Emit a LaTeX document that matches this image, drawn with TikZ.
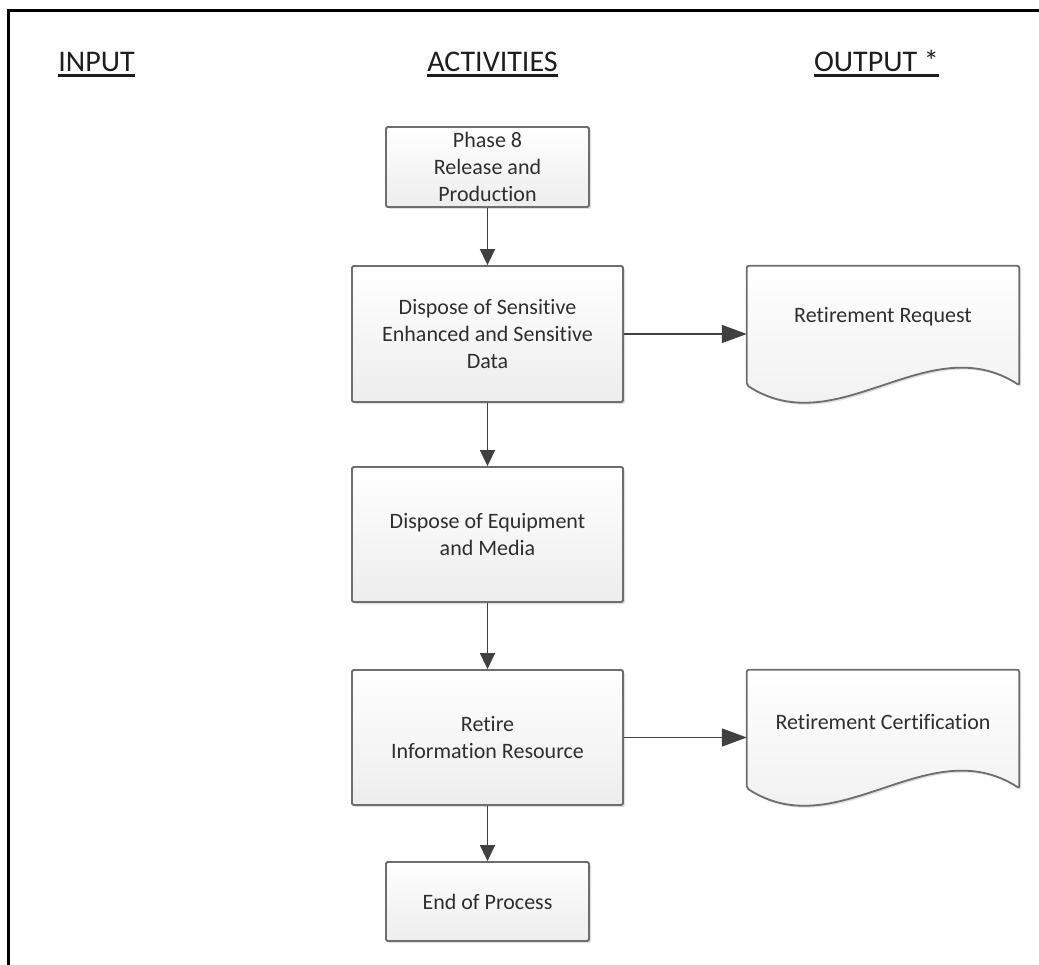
\documentclass[tikz,border=0pt]{standalone}
\usepackage{fontspec}
\setmainfont{Carlito}[Ligatures=NoCommon]
\usetikzlibrary{arrows.meta,shadows,calc}
\definecolor{linec}{HTML}{404040}
\definecolor{boxline}{HTML}{6E6E6E}
\definecolor{txt}{HTML}{2E2E2E}
\definecolor{headc}{HTML}{1E1E1E}
\begin{document}
\begin{tikzpicture}[x=1pt,y=-1pt,
  procbox/.style={draw=boxline, line width=1.8pt, rounded corners=1.5pt,
    top color=white, bottom color=black!7,
    drop shadow={shadow xshift=2pt,shadow yshift=-2pt,fill=black!40,opacity=0.3},
    align=center, font=\fontsize{22}{27}\selectfont, text=txt, inner sep=0pt},
  docframe/.style={draw=none, inner sep=0pt, minimum width=272pt},
  docline/.style={draw=boxline, line width=1.8pt, rounded corners=2pt,
    top color=white, bottom color=black!7,
    drop shadow={shadow xshift=2pt,shadow yshift=-2pt,fill=black!40,opacity=0.3}},
  doctext/.style={font=\fontsize{22}{27}\selectfont, text=txt, inner sep=0pt},
  heading/.style={font=\fontsize{30}{36}\selectfont, text=headc, anchor=base, inner sep=0pt},
  uline/.style={draw=headc, line width=2.4pt},
  varrow/.style={draw=linec, line width=1.6pt, -{Triangle[length=16pt,width=15pt]}},
  harrow/.style={draw=linec, line width=1.6pt, -{Triangle[length=25pt,width=18pt]}}
]
\useasboundingbox (0,0) rectangle (1039,965);
\fill[white] (0,0) rectangle (1039,965);

% frame
\draw[line width=3pt, black] (8.5,965) -- (8.5,10.5) -- (1039,10.5);

% headings
\node[heading] (hin)  at (96.5,72)  {INPUT};
\node[heading] (hact) at (492.5,72) {ACTIVITIES};
\node[heading] (hout) at (876.5,72) {OUTPUT *};
\foreach \h in {hin,hact,hout}{
  \draw[uline] ($(\h.base west)+(0,3.5)$) -- ($(\h.base east)+(0,3.5)$);
}

% process boxes
\node[procbox, minimum width=203pt, minimum height=80pt]  (b1) at (487.5,167)   {Phase 8\\Release and\\Production};
\node[procbox, minimum width=271pt, minimum height=136pt] (b2) at (487.5,334)   {Dispose of Sensitive\\Enhanced and Sensitive\\Data};
\node[procbox, minimum width=271pt, minimum height=135pt] (b3) at (487.5,534.5) {Dispose of Equipment\\and Media};
\node[procbox, minimum width=271pt, minimum height=135pt] (b4) at (487.5,737.5) {Retire\\Information Resource};
\node[procbox, minimum width=203pt, minimum height=79pt]  (b5) at (487.5,901.5) {End of Process};

% document shapes
\node[docframe, minimum height=119pt] (d1) at (883,325.5) {};
\node[docframe, minimum height=118pt] (d2) at (883,729) {};
\foreach \d in {d1,d2}{
  \path[docline] (\d.north west) -- (\d.north east) -- (\d.south east)
    .. controls ($(\d.south east)+(-91,-59)$) and ($(\d.south west)+(91,59)$) .. (\d.south west) -- cycle;
}
\node[doctext] (t1) at ($(d1.north)+(0,51)$) {Retirement Request};
\node[doctext] (t2) at ($(d2.north)+(0,52)$) {Retirement Certification};

% connectors
\draw[varrow] (b1.south) -- (b2.north);
\draw[varrow] (b2.south) -- (b3.north);
\draw[varrow] (b3.south) -- (b4.north);
\draw[varrow] (b4.south) -- (b5.north);
\draw[harrow] (b2.east) -- (b2.east -| d1.west);
\draw[harrow] (b4.east) -- (b4.east -| d2.west);
\end{tikzpicture}
\end{document}
